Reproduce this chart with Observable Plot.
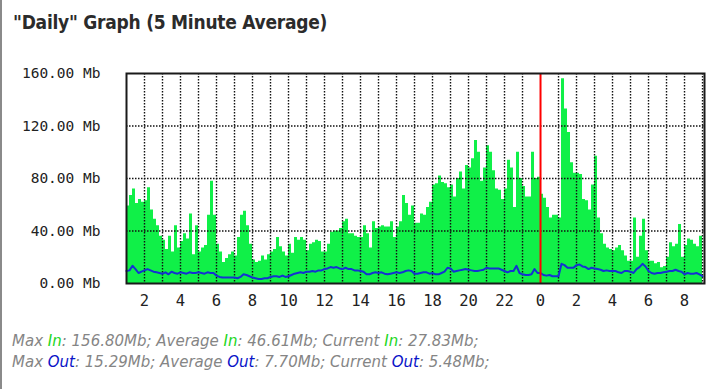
<!DOCTYPE html>
<html>
<head>
<meta charset="utf-8">
<script src="https://cdn.jsdelivr.net/npm/d3@7"></script>
<script src="https://cdn.jsdelivr.net/npm/@observablehq/plot@0.6"></script>
<style>
  html, body { margin: 0; padding: 0; background: #fff; }
  #wrap { position: relative; width: 723px; height: 389px; overflow: hidden; border-left: 2px solid #8a8a8a; box-sizing: border-box; }
  #chart { position: absolute; left: -2px; top: 0; }
  #title { position: absolute; left: 11px; top: 11px; font-family: "Liberation Sans Narrow", "DejaVu Sans Condensed", "DejaVu Sans", sans-serif; font-weight: bold; font-size: 19px; letter-spacing: -0.25px; color: #2b2b2b; white-space: nowrap; }
  .foot { position: absolute; left: 10px; font-family: "DejaVu Sans", sans-serif; font-style: italic; font-size: 15px; color: #858585; white-space: nowrap; }
  .in { color: #22d622; }
  .out { color: #0a14c8; }
</style>
</head>
<body>
<div id="wrap">
  <div id="chart"></div>
  <div id="title">"Daily" Graph (5 Minute Average)</div>
  <div class="foot" id="f1"></div>
  <div class="foot" id="f2"></div>
</div>
<script>
// ---- data (10-minute samples, starting at hour 1 of day 1; hours > 24 are the next day) ----
const startHour = 1;
const stepMinutes = 10;
const inValues = [
  59,67,72,61,64,62,63,73,56,49,44,36,33,26,36,24,44,27,32,38,34,53,22,44,24,27,29,52,78,52,30,24,16,19,22,24,21,35,52,
  55,44,30,18,16,17,21,18,22,24,26,35,28,24,21,30,23,35,33,35,33,25,30,31,33,32,24,24,30,39,40,40,42,47,49,38,38,36,
  35,35,44,38,27,47,42,43,44,43,43,47,35,43,47,67,61,52,59,46,46,53,52,58,62,75,76,82,77,76,73,75,66,80,85,72,90,88,95,
  109,100,78,88,105,100,86,72,71,64,72,94,88,58,100,80,74,66,66,100,80,81,68,65,58,50,52,52,50,156,133,115,92,84,84,83,64,63,56,
  75,97,50,38,30,27,26,25,27,29,25,21,17,17,50,20,36,49,25,17,17,15,16,12,13,20,31,28,30,45,20,29,34,33,30,28,36,32
];
const outValues = [
  9.5,10,13.5,11,8,9,10,11,10,9,8.5,8,7.5,8.5,7,9,8,7.5,8.5,8,7.5,8.5,8,8,8.5,8,7.5,8.5,8,8,6,5,4.5,4.5,4.5,4.5,4.5,4,5,
  7,6.5,5.5,4.5,4,3.5,3.5,4,4,5,5.5,5.5,5,6,5,5.5,6.5,7.5,8,8.5,8,9,9,9.5,9,10,10,11,11.5,12.5,12,12.5,11.5,11,12,11,11,10,
  10,9.5,9,7,7,8,8.5,8,8.5,7.5,7,7.5,8,8.5,8,8.5,9.5,10,9.5,7.5,7.5,8,8.5,8.5,7.5,8,7,7,8,9,12,11.5,9,9.5,10,10.5,11,10.5,10,
  9.5,9.5,10,10.5,12,11.5,11.5,11.5,11.5,10.5,9.5,8.5,9.5,9.5,13.5,8,7,6.5,6.5,7,11,8,8,6.5,6,6.5,5.5,5.5,5.5,15,14,12,12,12,14,14.5,13,12.5,11,
  12,11.5,11,10.5,9.5,10,9.5,9.5,9.5,8.5,8,9.5,9.5,9,8,11,12.5,15,13,9.5,8,7.5,8,8,8.5,9,9.5,9.5,10.5,9.5,9,7,8,7.5,7.5,8,7,5.5
];
const xDomain = [1, 33.11];
const xTickHours = [2,4,6,8,10,12,14,16,18,20,22,24,26,28,30,32];
const gridHours = [2,3,4,5,6,7,8,9,10,11,12,13,14,15,16,17,18,19,20,21,22,23,25,26,27,28,29,30,31,32,33];
const midnightHour = [24];
const yTicks = [0, 40, 80, 120, 160];
const yGrid = [40, 80, 120];
const stats = [
  {label: "In", max: "156.80Mb", avg: "46.61Mb", cur: "27.83Mb"},
  {label: "Out", max: "15.29Mb", avg: "7.70Mb", cur: "5.48Mb"}
];

const GREEN = "#10f048";
const BLUE = "#1432d2";

const rows = inValues.map((v, i) => ({h: startHour + i * stepMinutes / 60, inV: v, outV: outValues[i]}));

const dots = {stroke: "#111", strokeOpacity: 1, strokeWidth: 1.4, strokeDasharray: "1.5,1.5"};

const chart = Plot.plot({
  width: 723,
  height: 389,
  marginTop: 73,
  marginBottom: 106,
  marginLeft: 126,
  marginRight: 19,
  x: {domain: xDomain},
  y: {domain: [0, 160]},
  style: {background: "transparent", overflow: "visible"},
  marks: [
    Plot.areaY(rows, {x: "h", y: "inV", curve: "step-after", fill: GREEN}),
    Plot.ruleX(gridHours, {x: d => d, ...dots}),
    Plot.ruleY(yGrid, {y: d => d, ...dots}),
    Plot.lineY(rows, {x: "h", y: "outV", stroke: BLUE, strokeWidth: 2}),
    Plot.ruleX(midnightHour, {x: d => d, stroke: "#ff0000", strokeWidth: 2}),
    Plot.frame({stroke: "#1a1a1a", strokeWidth: 2}),
    Plot.axisY(yTicks, {
      tickSize: 0, tickPadding: 26, label: null,
      tickFormat: d => d.toFixed(2) + " Mb",
      fontFamily: "DejaVu Sans Mono, monospace", fontSize: 14.5, fill: "#222"
    }),
    Plot.axisX(xTickHours, {
      tickSize: 0, tickPadding: 11, label: null,
      tickFormat: d => String(d % 24),
      fontFamily: "DejaVu Sans Mono, monospace", fontSize: 15.5, fill: "#222"
    })
  ]
});
document.getElementById("chart").appendChild(chart);

function line(s) {
  const c = s.label === "In" ? "in" : "out";
  return `Max <span class="${c}">${s.label}</span>: ${s.max}; Average <span class="${c}">${s.label}</span>: ${s.avg}; Current <span class="${c}">${s.label}</span>: ${s.cur};`;
}
const f1 = document.getElementById("f1");
const f2 = document.getElementById("f2");
f1.innerHTML = line(stats[0]);
f2.innerHTML = line(stats[1]);
f1.style.top = "332px";
f2.style.top = "353px";
</script>
</body>
</html>
